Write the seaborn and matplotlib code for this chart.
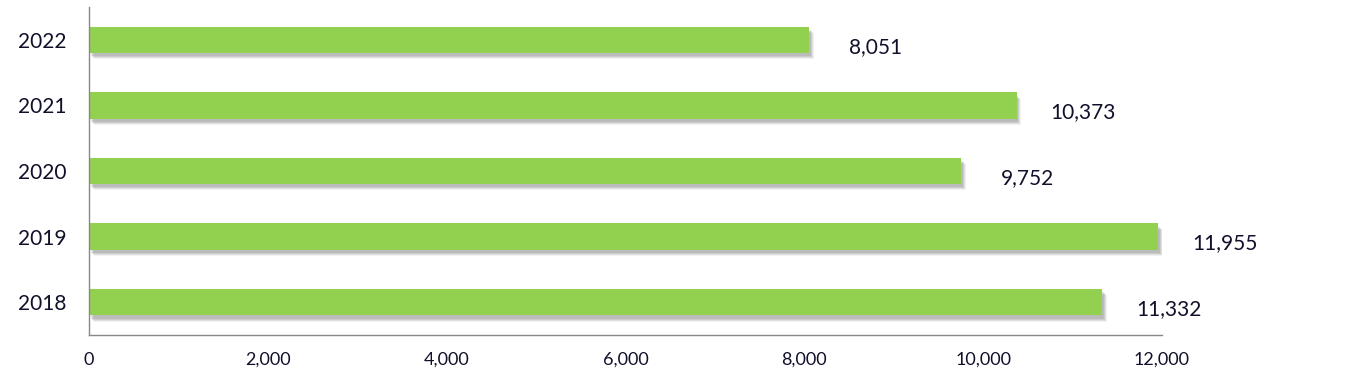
import matplotlib
matplotlib.use("Agg")
import matplotlib.pyplot as plt
import matplotlib.patheffects as pe
import seaborn as sns
import pandas as pd

# data
years = ['2022', '2021', '2020', '2019', '2018']
values = [8051, 10373, 9752, 11955, 11332]
xticks = [0, 2000, 4000, 6000, 8000, 10000, 12000]

df = pd.DataFrame({'year': years, 'value': values})

sns.set_style('white')
plt.rcParams['font.family'] = ['Lato', 'DejaVu Sans']

fig = plt.figure(figsize=(13.52, 3.9), dpi=100)
ax = fig.add_axes([89 / 1352, 1 - 335 / 390, 1073 / 1352, 328 / 390])

sns.barplot(data=df, x='value', y='year', order=years, color='#92D050',
            saturation=1, width=0.4, linewidth=0, ax=ax)

# soft drop shadow, built from a few offset layers
shadow = [pe.SimplePatchShadow(offset=(o, -o - 1), shadow_rgbFace='#606060', alpha=a)
          for o, a in [(3.5, 0.08), (2.8, 0.12), (2.1, 0.15), (1.4, 0.15)]]
for bar in ax.patches:
    bar.set_path_effects(shadow + [pe.Normal()])

txt_color = '#10102a'
for i, v in enumerate(values):
    ax.annotate(f'{v:,}', xy=(v, i), xytext=(48, -5), textcoords='offset points',
                ha='center', va='center', fontsize=15, color=txt_color)

ax.set_xlim(0, 12000)
ax.set_ylim(4.5, -0.5)
ax.set_xticks(xticks)
ax.set_xticklabels([f'{t:,}' for t in xticks])
ax.set_xlabel('')
ax.set_ylabel('')
ax.tick_params(axis='x', length=0, pad=12, labelsize=13, labelcolor=txt_color)
ax.tick_params(axis='y', length=0, pad=16, labelsize=15, labelcolor=txt_color)

for side in ['top', 'right']:
    ax.spines[side].set_visible(False)
for side in ['left', 'bottom']:
    ax.spines[side].set_color('#888888')
    ax.spines[side].set_linewidth(1)

fig.savefig('out.png', dpi=100)
